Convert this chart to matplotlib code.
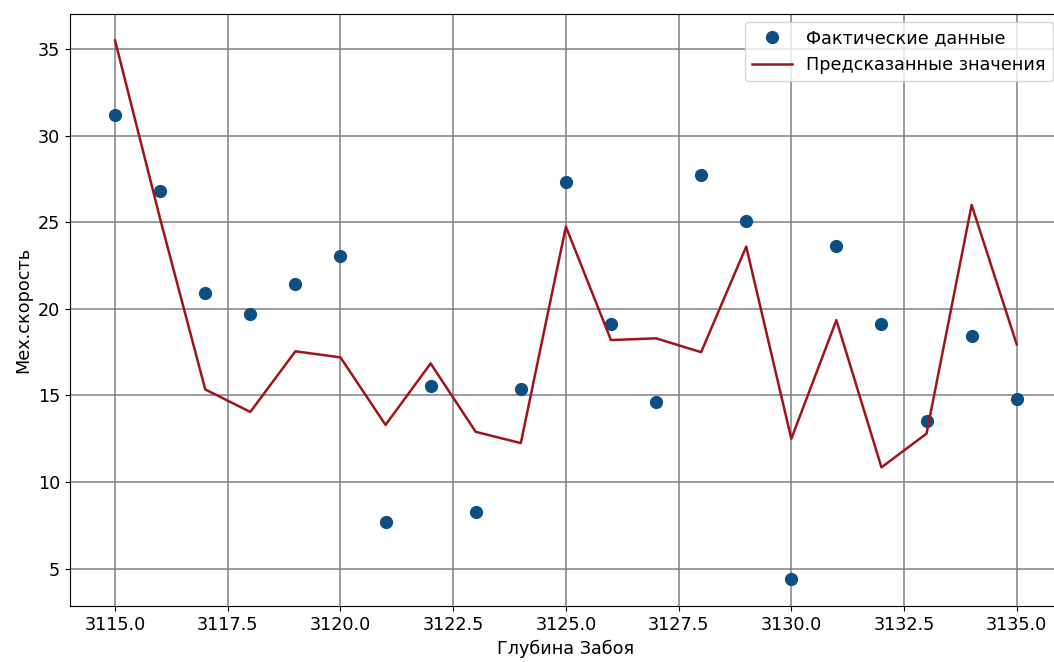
import numpy as np
import matplotlib.pyplot as plt

# глубина забоя и значения
depth = np.arange(3115, 3136)
actual = [31.2, 26.8, 20.9, 19.7, 21.45, 23.05, 7.7, 15.55, 8.3, 15.4, 27.3,
          19.1, 14.65, 27.75, 25.1, 4.4, 23.65, 19.15, 13.55, 18.45, 14.8]
predicted = [35.5, 25.2, 15.35, 14.05, 17.55, 17.2, 13.3, 16.85, 12.9, 12.25, 24.75,
             18.2, 18.3, 17.5, 23.6, 12.5, 19.35, 10.85, 12.8, 26.0, 17.95]

plt.rcParams['font.size'] = 12.7

fig = plt.figure(figsize=(10.54, 6.62), dpi=100)
ax = fig.add_axes([0.0664, 0.0846, 0.941, 0.895])

ax.plot(depth, actual, 'o', color='#0d4f83', markersize=8.5, label='Фактические данные')
ax.plot(depth, predicted, color='#9e1519', linewidth=1.8, label='Предсказанные значения')

ax.set_xlabel('Глубина Забоя')
ax.set_ylabel('Мех.скорость')
ax.grid(True, color='#808080', linewidth=1.1)
ax.spines['right'].set_visible(False)
ax.legend(loc='upper right', handlelength=2.3)

fig.savefig('out.png', dpi=100)
